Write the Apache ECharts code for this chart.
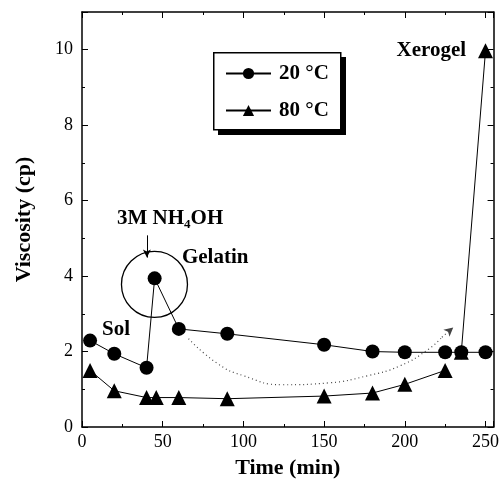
<!DOCTYPE html>
<html><head><meta charset="utf-8">
<script src="https://cdn.jsdelivr.net/npm/echarts@6/dist/echarts.min.js"></script>
<style>html,body{margin:0;padding:0;background:#fff}#c{width:502px;height:484px}</style>
</head><body><div id="c"></div>
<script>
// Data
const series20Name = '20 °C';
const series80Name = '80 °C';
const time20 = [5, 20, 40, 45, 60, 90, 150, 180, 200, 225, 235, 250];
const visc20 = [2.29, 1.94, 1.57, 3.94, 2.6, 2.47, 2.18, 2.0, 1.98, 1.98, 1.98, 1.98];
const time80 = [5, 20, 40, 46, 60, 90, 150, 180, 200, 225, 230, 235, 250];
const visc80 = [1.5, 0.96, 0.78, 0.78, 0.78, 0.75, 0.82, 0.9, 1.13, 1.5, '-', 1.98, 9.97];
// Dotted trend arrow (guide curve) in data units
const trendX = [66, 84, 100, 124, 153, 177, 197, 215, 223];
const trendY = [2.34, 1.68, 1.36, 1.12, 1.17, 1.36, 1.62, 2.07, 2.38];
const trendArrow = [[223, 2.38], [230, 2.64]];
// Annotations: [x, y, text]
const annotations = [
  [21.7, 5.52, '{a|3M NH}{s|4}{a|OH}'],
  [61.9, 4.49, '{a|Gelatin}'],
  [12.4, 2.58, '{a|Sol}'],
  [194.9, 9.97, '{a|Xerogel}']
];
const gelCircle = [44.9, 3.78];
const nh4ohArrow = [[40.2, 5.08], [40.2, 4.49]];
const xTicks = {min: 0, max: 255, interval: 50};
const yTicks = {min: 0, max: 11, interval: 2};

const FONT = 'Liberation Serif';
const zip = (xs, ys) => xs.map((x, i) => [x, ys[i]]);

const chart = echarts.init(document.getElementById('c'), null, {renderer: 'canvas'});
const axisCommon = {
  axisLine: {show: true, onZero: false, lineStyle: {color: '#000', width: 1.5}},
  axisTick: {show: true, inside: true, length: 6, lineStyle: {color: '#000', width: 1}},
  minorTick: {show: true, splitNumber: 2, length: 3, lineStyle: {color: '#000', width: 1}},
  splitLine: {show: false}
};
const labelStyle = {color: '#000', fontFamily: FONT, fontSize: 18, showMaxLabel: false};
const nameStyle = {color: '#000', fontFamily: FONT, fontSize: 22, fontWeight: 'bold'};

chart.setOption({
  animation: false,
  backgroundColor: '#fff',
  grid: {left: 82, right: 7, top: 12, bottom: 56},
  graphic: [
    {type: 'rect', left: 218, top: 57, shape: {width: 128, height: 78}, style: {fill: '#000'}, z: 10},
    {type: 'rect', left: 213, top: 52, shape: {width: 127, height: 77}, style: {fill: '#fff', stroke: '#000', lineWidth: 1.5}, z: 11}
  ],
  legend: {
    data: [series20Name, series80Name],
    orient: 'vertical',
    left: 214, top: 63,
    padding: [0, 0, 0, 11],
    itemWidth: 45, itemHeight: 14, itemGap: 16,
    textStyle: {color: '#000', fontFamily: FONT, fontSize: 21, fontWeight: 'bold', padding: [0, 0, 0, 3]},
    selectedMode: false,
    z: 20
  },
  xAxis: [
    Object.assign({type: 'value', position: 'bottom', min: xTicks.min, max: xTicks.max, interval: xTicks.interval,
      name: 'Time (min)', nameLocation: 'middle', nameGap: 30, nameTextStyle: nameStyle,
      axisLabel: Object.assign({margin: 6}, labelStyle)}, axisCommon),
    Object.assign({type: 'value', position: 'top', min: xTicks.min, max: xTicks.max, interval: xTicks.interval,
      axisLabel: {show: false}}, axisCommon)
  ],
  yAxis: [
    Object.assign({type: 'value', position: 'left', min: yTicks.min, max: yTicks.max, interval: yTicks.interval,
      name: 'Viscosity (cp)', nameLocation: 'middle', nameGap: 47, nameTextStyle: nameStyle,
      axisLabel: Object.assign({margin: 9}, labelStyle)}, axisCommon),
    Object.assign({type: 'value', position: 'right', min: yTicks.min, max: yTicks.max, interval: yTicks.interval,
      axisLabel: {show: false}}, axisCommon)
  ],
  series: [
    {
      name: 'trend', type: 'line', smooth: 0.5, silent: true, symbol: 'none',
      data: zip(trendX, trendY),
      lineStyle: {color: '#444', width: 1.2, type: [1, 3]},
      markLine: {
        silent: true, symbol: ['none', 'arrow'], symbolSize: [7, 9],
        lineStyle: {color: '#444', width: 1.2, type: [1, 3]},
        label: {show: false},
        data: [[{coord: trendArrow[0]}, {coord: trendArrow[1]}]]
      },
      z: 1
    },
    {
      name: series20Name, type: 'line', data: zip(time20, visc20),
      symbol: 'circle', symbolSize: 14,
      itemStyle: {color: '#000'}, lineStyle: {color: '#000', width: 1},
      z: 3
    },
    {
      name: series80Name, type: 'line', data: zip(time80, visc80),
      symbol: 'triangle', symbolSize: 15, connectNulls: false,
      itemStyle: {color: '#000'}, lineStyle: {color: '#000', width: 1},
      z: 3
    },
    {
      name: 'gelCircle', type: 'scatter', silent: true,
      data: [gelCircle], symbol: 'circle', symbolSize: 66,
      itemStyle: {color: 'transparent', borderColor: '#000', borderWidth: 1.3, opacity: 1},
      markLine: {
        silent: true, symbol: ['none', 'arrow'], symbolSize: [6, 8],
        lineStyle: {color: '#000', width: 1, type: 'solid'},
        label: {show: false},
        data: [[{coord: nh4ohArrow[0]}, {coord: nh4ohArrow[1]}]]
      },
      z: 2
    },
    {
      name: 'annotations', type: 'scatter', silent: true,
      data: annotations.map(a => ({value: [a[0], a[1]], text: a[2]})),
      symbolSize: 0,
      itemStyle: {opacity: 1},
      label: {
        show: true, position: 'right', distance: 0,
        formatter: p => p.data.text,
        rich: {
          a: {color: '#000', fontFamily: FONT, fontSize: 21, fontWeight: 'bold'},
          s: {color: '#000', fontFamily: FONT, fontSize: 13, fontWeight: 'bold', padding: [11, 0, 0, 0]}
        }
      },
      z: 4
    }
  ]
});
</script></body></html>
